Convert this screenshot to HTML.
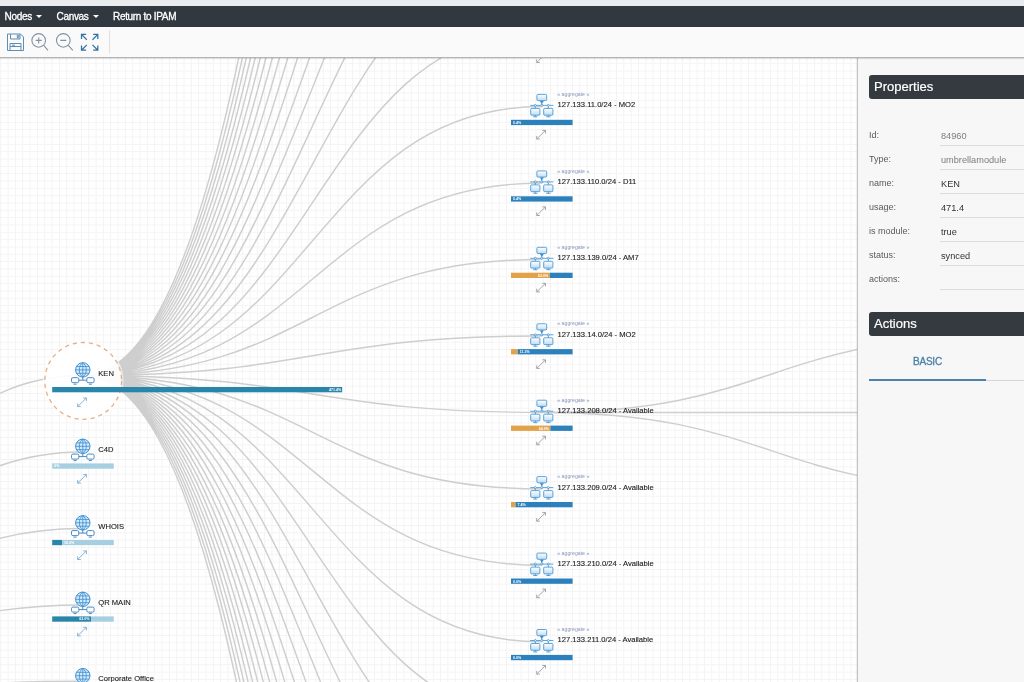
<!DOCTYPE html>
<html lang="en"><head><meta charset="utf-8"><title>Topology</title>
<style>
html,body{margin:0;padding:0}
body{width:1024px;height:682px;overflow:hidden;position:relative;background:#fff;font-family:"Liberation Sans",Arial,sans-serif;color:#333}
.top{z-index:3;position:absolute;left:0;top:0;width:1024px;height:6px;background:#e9ebee}
.nav{z-index:3;position:absolute;left:0;top:6px;width:1024px;height:21px;background:#32383f;color:#fff;font-size:10px;letter-spacing:-.32px;line-height:21px;white-space:nowrap;-webkit-text-stroke:.3px #fff}
.nav span{position:absolute;top:0}
.nav i{position:absolute;top:9.3px;width:0;height:0;border-left:3.1px solid transparent;border-right:3.1px solid transparent;border-top:3.4px solid #fff}
.tb{position:absolute;left:0;top:27px;width:1024px;height:31px;background:#fafafa;border-bottom:1px solid #b4b4b4;box-sizing:border-box;box-shadow:0 1px 1px rgba(0,0,0,.12);z-index:3}
.tb svg{position:absolute;left:0;top:0}
.cv{position:absolute;left:0;top:0;z-index:1}
.lk{fill:none;stroke:#cecece;stroke-width:1.45}
.lb{font-size:7.6px;fill:#1c1c1c;stroke:#1c1c1c;stroke-width:.12px}
.ag{font-size:5.2px;fill:#8a97bf}
.pt{font-size:3.6px;font-weight:bold}
.pn{position:absolute;left:857px;top:57px;width:167px;height:625px;background:#f7f7f7;border-left:1px solid #c2c2c2;box-sizing:border-box;z-index:2;box-shadow:-1px 0 1px rgba(0,0,0,.06)}
.hd{position:absolute;left:11px;width:160px;height:24px;background:#343a40;color:#fff;font-size:13px;line-height:23px;padding-left:5px;border-radius:3px 0 0 3px;box-sizing:border-box;-webkit-text-stroke:.2px #fff}
.row{position:absolute;left:11px;width:156px;height:24px;font-size:9px;color:#5a5a5a}
.row b{font-weight:normal;position:absolute;left:0;top:0;line-height:12px}
.row u{text-decoration:none;position:absolute;left:71px;top:-1px;width:90px;height:17px;line-height:17px;border-bottom:1px solid #dcdcdc;padding-left:1px;color:#333;font-size:9.2px}
.row u.g{color:#7d7d7d}
.tab{position:absolute;left:11px;top:286px;width:117px;height:38px;border-bottom:2px solid #4f82ab;box-sizing:border-box;color:#4a80aa;font-size:10px;letter-spacing:-.25px;text-align:center;line-height:37px;-webkit-text-stroke:.3px #4a80aa}
.tl{position:absolute;left:128px;top:323px;width:40px;height:1px;background:#d6d6d6}
</style></head><body>
<div class="top"></div>
<div class="nav"><span style="left:4.5px">Nodes</span><i style="left:35.7px"></i><span style="left:56.5px">Canvas</span><i style="left:92.7px"></i><span style="left:113px">Return to IPAM</span></div>
<div class="tb"><svg width="130" height="30" viewBox="0 27 130 30" fill="none">
<g stroke="#5d8db4" stroke-width="1">
<path d="M7.5 34H20.5L23.5 37V50.5H7.5Z"/>
<path d="M10.5 34V39H20V34M17.3 35.2H18.8V37.8H17.3ZM10 50.5V43.5H21V50.5M10 46.5H21M12 45.2H15"/>
</g>
<g stroke="#8093a3" stroke-width="1.1">
<circle cx="38.7" cy="40.4" r="6.8"/><path d="M43.7 45.4L48 50.4M35.7 40.4H41.7M38.7 37.4V43.4"/>
<circle cx="63.3" cy="40.4" r="6.8"/><path d="M68.3 45.4L72.8 50.4M60.3 40.4H66.3"/>
</g>
<g stroke="#3273a3" stroke-width="1.25">
<path d="M81.5 34.4L86.8 39.7M81.5 39V34.4H86.1M97.8 34.4L92.5 39.7M93.2 34.4H97.8V39M81.5 50.2L86.8 44.9M81.5 45.6V50.2H86.1M97.8 50.2L92.5 44.9M93.2 50.2H97.8V45.6"/>
</g>
<path d="M109.6 30.5V53.5" stroke="#dedede" stroke-width="1"/>
</svg></div>
<svg class="cv" width="857" height="682" viewBox="0 0 857 682">
<defs>
<pattern id="grid" width="7.33" height="7.33" patternUnits="userSpaceOnUse" x="0.3" y="4.6"><path d="M0 .5H7.33M.5 0V7.33" stroke="#f3f3f3" stroke-width=".9" fill="none"/></pattern>
<linearGradient id="mg" x1="0" y1="0" x2="0" y2="1"><stop offset="0" stop-color="#fff"/><stop offset="1" stop-color="#bfdcf3"/></linearGradient>
<symbol id="net" overflow="visible">
<g fill="url(#mg)" stroke="#4193d3" stroke-width=".85">
<rect x="-4.9" y="-11" width="9.8" height="6.2" rx="1"/>
<rect x="-11.1" y="3" width="9.2" height="6.8" rx="1"/>
<rect x="1.9" y="3" width="9.2" height="6.8" rx="1"/>
</g>
<path d="M-11.6 0H11.6M0 -4.7V0M-6.5 0V3M6.5 0V3M-8.6 11.4H-4.4M4.4 11.4H8.6M-6.5 9.8V11.4M6.5 9.8V11.4" stroke="#4193d3" stroke-width=".85" fill="none"/>
<path d="M-2 -4.4H2L0 -1.6Z" fill="#3b8ed0"/>
<g fill="#fff" stroke="#3b8ed0" stroke-width=".7"><circle cx="-6.5" cy="0" r="1"/><circle cx="0" cy="0" r="1"/><circle cx="6.5" cy="0" r="1"/></g>
</symbol>
<symbol id="glb" overflow="visible">
<g transform="translate(0 .5)"><circle cx="0" cy="-8.6" r="7.2" fill="#d6eafa" stroke="#3f90d1" stroke-width="1"/>
<path d="M-7.2 -8.6H7.2M-6.3 -12H6.3M-6.3 -5.2H6.3M0 -15.8V-1.4M0 -15.8C-4.6 -13 -4.6 -4.2 0 -1.4M0 -15.8C4.6 -13 4.6 -4.2 0 -1.4" stroke="#3f90d1" stroke-width=".85" fill="none"/></g>
<g fill="#fff" stroke="#4a8cc6" stroke-width="1">
<rect x="-11.3" y="-.3" width="7.3" height="5" rx="1.4"/>
<rect x="4" y="-.3" width="7.3" height="5" rx="1.4"/>
</g>
<path d="M0 -1.4V2.2M-4 2.2H3.9M-9.2 6.2H-6.2M6.1 6.2H9.1" stroke="#4a8cc6" stroke-width="1" fill="none"/>
</symbol>
<symbol id="exp" overflow="visible">
<path d="M-4.3 4.2L4.3 -4.2M1.2 -4.3H4.4V-1.2M-1.2 4.3H-4.4V1.2" stroke="currentColor" stroke-width=".8" fill="none"/>
</symbol>
</defs>
<rect width="857" height="682" fill="#fff"/>
<rect width="857" height="682" fill="url(#grid)"/>
<path class="lk" d="M82.8 375.5C312.3 375.5 312.3 -1116.6 541.8 -1116.6M82.8 375.5C312.3 375.5 312.3 -1040.2 541.8 -1040.2M82.8 375.5C312.3 375.5 312.3 -963.7 541.8 -963.7M82.8 375.5C312.3 375.5 312.3 -887.2 541.8 -887.2M82.8 375.5C312.3 375.5 312.3 -810.8 541.8 -810.8M82.8 375.5C312.3 375.5 312.3 -734.4 541.8 -734.4M82.8 375.5C312.3 375.5 312.3 -657.9 541.8 -657.9M82.8 375.5C312.3 375.5 312.3 -581.5 541.8 -581.5M82.8 375.5C312.3 375.5 312.3 -505 541.8 -505M82.8 375.5C312.3 375.5 312.3 -428.5 541.8 -428.5M82.8 375.5C312.3 375.5 312.3 -352.1 541.8 -352.1M82.8 375.5C312.3 375.5 312.3 -275.6 541.8 -275.6M82.8 375.5C312.3 375.5 312.3 -199.2 541.8 -199.2M82.8 375.5C312.3 375.5 312.3 -122.8 541.8 -122.8M82.8 375.5C312.3 375.5 312.3 -46.3 541.8 -46.3M82.8 375.5C312.3 375.5 312.3 30.2 541.8 30.2M82.8 375.5C312.3 375.5 312.3 106.6 541.8 106.6M82.8 375.5C312.3 375.5 312.3 183.1 541.8 183.1M82.8 375.5C312.3 375.5 312.3 259.5 541.8 259.5M82.8 375.5C312.3 375.5 312.3 336 541.8 336M82.8 375.5C312.3 375.5 312.3 412.4 541.8 412.4M82.8 375.5C312.3 375.5 312.3 488.9 541.8 488.9M82.8 375.5C312.3 375.5 312.3 565.3 541.8 565.3M82.8 375.5C312.3 375.5 312.3 641.8 541.8 641.8M82.8 375.5C312.3 375.5 312.3 718.2 541.8 718.2M82.8 375.5C312.3 375.5 312.3 794.7 541.8 794.7M82.8 375.5C312.3 375.5 312.3 871.1 541.8 871.1M82.8 375.5C312.3 375.5 312.3 947.6 541.8 947.6M82.8 375.5C312.3 375.5 312.3 1024 541.8 1024M82.8 375.5C312.3 375.5 312.3 1100.5 541.8 1100.5M82.8 375.5C312.3 375.5 312.3 1176.9 541.8 1176.9M82.8 375.5C312.3 375.5 312.3 1253.3 541.8 1253.3M82.8 375.5C312.3 375.5 312.3 1329.8 541.8 1329.8M82.8 375.5C312.3 375.5 312.3 1406.2 541.8 1406.2M82.8 375.5C312.3 375.5 312.3 1482.7 541.8 1482.7M82.8 375.5C312.3 375.5 312.3 1559.1 541.8 1559.1M82.8 375.5C312.3 375.5 312.3 1635.6 541.8 1635.6M82.8 375.5C312.3 375.5 312.3 1712 541.8 1712M82.8 375.5C312.3 375.5 312.3 1788.5 541.8 1788.5M82.8 375.5C312.3 375.5 312.3 1865 541.8 1865M-376.2 715C-146.7 715 -146.7 375.5 82.8 375.5M-376.2 715C-146.7 715 -146.7 451.9 82.8 451.9M-376.2 715C-146.7 715 -146.7 528.4 82.8 528.4M-376.2 715C-146.7 715 -146.7 604.9 82.8 604.9M-376.2 715C-146.7 715 -146.7 681.3 82.8 681.3M-376.2 715C-146.7 715 -146.7 757.8 82.8 757.8M541.8 412.4C771.3 412.4 771.3 336 1000.8 336M541.8 412.4C771.3 412.4 771.3 412.4 1000.8 412.4M541.8 412.4C771.3 412.4 771.3 488.9 1000.8 488.9"/>
<use href="#net" x="541.8" y="29"/><text class="ag" x="557.3" y="19.6">« aggregate »</text><text class="lb" x="557.6" y="30.9">127.133.109.0/24 - D10</text><rect x="511" y="43.4" width="61.6" height="5.3" fill="#2c81bd"/><text class="pt" x="513" y="47.4" text-anchor="start" fill="#fff">0.4%</text><use href="#exp" x="541.1" y="58.2" color="#8d939b"/><use href="#net" x="541.8" y="105.4"/><text class="ag" x="557.3" y="96">« aggregate »</text><text class="lb" x="557.6" y="107.3">127.133.11.0/24 - MO2</text><rect x="511" y="119.8" width="61.6" height="5.3" fill="#2c81bd"/><text class="pt" x="513" y="123.8" text-anchor="start" fill="#fff">0.4%</text><use href="#exp" x="541.1" y="134.7" color="#8d939b"/><use href="#net" x="541.8" y="181.9"/><text class="ag" x="557.3" y="172.5">« aggregate »</text><text class="lb" x="557.6" y="183.8">127.133.110.0/24 - D11</text><rect x="511" y="196.3" width="61.6" height="5.3" fill="#2c81bd"/><text class="pt" x="513" y="200.3" text-anchor="start" fill="#fff">0.4%</text><use href="#exp" x="541.1" y="211.2" color="#8d939b"/><use href="#net" x="541.8" y="258.3"/><text class="ag" x="557.3" y="248.9">« aggregate »</text><text class="lb" x="557.6" y="260.2">127.133.139.0/24 - AM7</text><rect x="511" y="272.7" width="38.8" height="5.3" fill="#e2a24a"/><rect x="549.8" y="272.7" width="22.8" height="5.3" fill="#2c81bd"/><text class="pt" x="548.3" y="276.7" text-anchor="end" fill="#fff">63.0%</text><use href="#exp" x="541.1" y="287.6" color="#8d939b"/><use href="#net" x="541.8" y="334.8"/><text class="ag" x="557.3" y="325.4">« aggregate »</text><text class="lb" x="557.6" y="336.6">127.133.14.0/24 - MO2</text><rect x="511" y="349.1" width="6.8" height="5.3" fill="#e2a24a"/><rect x="517.8" y="349.1" width="54.8" height="5.3" fill="#2c81bd"/><text class="pt" x="519.8" y="353.1" text-anchor="start" fill="#fff">11.3%</text><use href="#exp" x="541.1" y="364.1" color="#8d939b"/><use href="#net" x="541.8" y="411.2"/><text class="ag" x="557.3" y="401.8">« aggregate »</text><text class="lb" x="557.6" y="413.1">127.133.208.0/24 - Available</text><rect x="511" y="425.6" width="39.4" height="5.3" fill="#e2a24a"/><rect x="550.4" y="425.6" width="22.2" height="5.3" fill="#2c81bd"/><text class="pt" x="548.9" y="429.6" text-anchor="end" fill="#fff">64.0%</text><use href="#exp" x="541.1" y="440.5" color="#8d939b"/><use href="#net" x="541.8" y="487.6"/><text class="ag" x="557.3" y="478.2">« aggregate »</text><text class="lb" x="557.6" y="489.5">127.133.209.0/24 - Available</text><rect x="511" y="502" width="4.6" height="5.3" fill="#e2a24a"/><rect x="515.6" y="502" width="57" height="5.3" fill="#2c81bd"/><text class="pt" x="517.6" y="506" text-anchor="start" fill="#fff">7.4%</text><use href="#exp" x="541.1" y="516.9" color="#8d939b"/><use href="#net" x="541.8" y="564.1"/><text class="ag" x="557.3" y="554.7">« aggregate »</text><text class="lb" x="557.6" y="566">127.133.210.0/24 - Available</text><rect x="511" y="578.5" width="61.6" height="5.3" fill="#2c81bd"/><text class="pt" x="513" y="582.5" text-anchor="start" fill="#fff">0.0%</text><use href="#exp" x="541.1" y="593.4" color="#8d939b"/><use href="#net" x="541.8" y="640.5"/><text class="ag" x="557.3" y="631.1">« aggregate »</text><text class="lb" x="557.6" y="642.4">127.133.211.0/24 - Available</text><rect x="511" y="654.9" width="61.6" height="5.3" fill="#2c81bd"/><text class="pt" x="513" y="658.9" text-anchor="start" fill="#fff">0.0%</text><use href="#exp" x="541.1" y="669.8" color="#8d939b"/><use href="#net" x="541.8" y="717"/><text class="ag" x="557.3" y="707.6">« aggregate »</text><text class="lb" x="557.6" y="718.9">127.133.212.0/24 - Available</text><rect x="511" y="731.4" width="61.6" height="5.3" fill="#2c81bd"/><text class="pt" x="513" y="735.4" text-anchor="start" fill="#fff">0.0%</text><use href="#exp" x="541.1" y="746.3" color="#8d939b"/><circle cx="83.2" cy="380.9" r="40.5" fill="#fff" opacity="0.55"/><circle cx="83.2" cy="380.9" r="38.4" fill="#fff" fill-opacity="0.8" stroke="#e5b08c" stroke-width="1.35" stroke-dasharray="4.2 3.9"/><use href="#glb" x="82.8" y="378"/><text class="lb" x="98.3" y="375.6">KEN</text><rect x="52.2" y="387" width="290" height="5.3" fill="#2a85aa"/><text class="pt" x="341.2" y="391" text-anchor="end" fill="#fff">471.4%</text><use href="#exp" x="82" y="402.3" color="#6aa2d2"/><use href="#glb" x="82.8" y="454.4"/><text class="lb" x="98.3" y="452.1">C4D</text><rect x="52.2" y="463.4" width="61.6" height="5.3" fill="#a6d0e1"/><text class="pt" x="54.2" y="467.4" text-anchor="start" fill="#fff">0%</text><use href="#exp" x="82" y="478.8" color="#6aa2d2"/><use href="#glb" x="82.8" y="530.9"/><text class="lb" x="98.3" y="528.5">WHOIS</text><rect x="52.2" y="539.9" width="9.9" height="5.3" fill="#2a85aa"/><rect x="62.1" y="539.9" width="51.7" height="5.3" fill="#a6d0e1"/><text class="pt" x="64.1" y="543.9" text-anchor="start" fill="#fff">16.0%</text><use href="#exp" x="82" y="555.2" color="#6aa2d2"/><use href="#glb" x="82.8" y="607.4"/><text class="lb" x="98.3" y="605">QR MAIN</text><rect x="52.2" y="616.4" width="38.8" height="5.3" fill="#2a85aa"/><rect x="91" y="616.4" width="22.8" height="5.3" fill="#a6d0e1"/><text class="pt" x="89.5" y="620.4" text-anchor="end" fill="#fff">63.0%</text><use href="#exp" x="82" y="631.6" color="#6aa2d2"/><use href="#glb" x="82.8" y="683.8"/><text class="lb" x="98.3" y="681.4">Corporate Office</text><rect x="52.2" y="692.8" width="12.3" height="5.3" fill="#2a85aa"/><rect x="64.5" y="692.8" width="49.3" height="5.3" fill="#a6d0e1"/><text class="pt" x="66.5" y="696.8" text-anchor="start" fill="#fff">20.0%</text><use href="#exp" x="82" y="708.1" color="#6aa2d2"/>
</svg>
<div class="pn">
<div class="hd" style="top:18px">Properties</div>
<div class="row" style="top:71.8px"><b>Id:</b><u class="g">84960</u></div>
<div class="row" style="top:95.9px"><b>Type:</b><u class="g">umbrellamodule</u></div>
<div class="row" style="top:119.9px"><b>name:</b><u>KEN</u></div>
<div class="row" style="top:144.0px"><b>usage:</b><u>471.4</u></div>
<div class="row" style="top:168.1px"><b>is module:</b><u>true</u></div>
<div class="row" style="top:192.1px"><b>status:</b><u>synced</u></div>
<div class="row" style="top:216.2px"><b>actions:</b><u></u></div>
<div class="hd" style="top:255px">Actions</div>
<div class="tab">BASIC</div><div class="tl"></div>
</div>
</body></html>
